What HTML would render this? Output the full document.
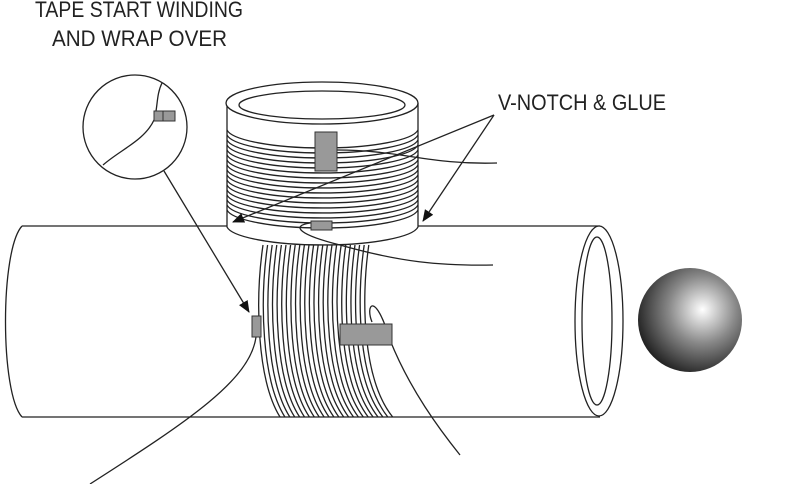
<!DOCTYPE html>
<html><head><meta charset="utf-8"><style>
html,body{margin:0;padding:0;background:#fff;}
svg{display:block}
text{font-family:"Liberation Sans",sans-serif;font-size:22px;fill:#222;}
</style></head><body>
<svg id="s" width="800" height="484" viewBox="0 0 800 484" xmlns="http://www.w3.org/2000/svg">
<defs>
<radialGradient id="g" cx="0.62" cy="0.4" r="0.65">
<stop offset="0" stop-color="#fff"/><stop offset="0.5" stop-color="#888"/><stop offset="1" stop-color="#222"/>
</radialGradient>
<marker id="a" markerWidth="12" markerHeight="10" refX="11" refY="5" orient="auto" markerUnits="userSpaceOnUse"><path d="M0,0 L12,5 L0,10 z" fill="#111"/></marker>
</defs>
<text x="35" y="17" textLength="208" lengthAdjust="spacingAndGlyphs">TAPE START WINDING</text>
<text x="52" y="46" textLength="175" lengthAdjust="spacingAndGlyphs">AND WRAP OVER</text>
<text x="498" y="110" textLength="168" lengthAdjust="spacingAndGlyphs">V-NOTCH &amp; GLUE</text>
<g fill="none" stroke="#222" stroke-width="1.3">
<path d="M22,226 L600,226 M22,417 L600,417 M22,226 C0,250 0,393 22,417" fill="#fff"/>
<ellipse cx="599" cy="321" rx="24" ry="95" fill="#fff"/>
<ellipse cx="597" cy="321" rx="15" ry="84"/>
<g id="band"></g>
<path d="M227,103 L227,227 A96,20 0 0 0 418,227 L418,103" fill="#fff"/>
<ellipse cx="322" cy="103" rx="96" ry="21" fill="#fff"/>
<ellipse cx="322" cy="105" rx="83" ry="14"/>
<g id="ring"></g>
<circle cx="135" cy="127" r="52" fill="#fff"/>
<path d="M162,83 C156,95 158,108 154,120 C145,140 120,150 103,165"/>
<path d="M337,150 C400,150 430,165 497,163"/>
<path d="M310,223 C290,226 300,235 340,245 C400,262 440,266 493,265"/>
<path d="M372,322 C365,305 375,290 390,340 C410,390 440,430 460,455"/>
<path d="M256,337 C250,380 190,420 90,484"/>
<path d="M494,115 L233,222" marker-end="url(#a)"/>
<path d="M494,115 L423,221" marker-end="url(#a)"/>
<path d="M164,171 L249,312" marker-end="url(#a)"/>
</g>
<g fill="#999" stroke="#333" stroke-width="1">
<rect x="154" y="111" width="11" height="10"/><rect x="163" y="111" width="12" height="10"/>
<rect x="315" y="132" width="22" height="39"/>
<rect x="311" y="221" width="21" height="9"/>
<rect x="252" y="316" width="9" height="21"/>
<rect x="340" y="324" width="52" height="21"/>
</g>
<circle cx="690" cy="320" r="52" fill="url(#g)"/>
</svg>
<script>
var r=document.getElementById("ring"),b=document.getElementById("band"),h="";
for(var i=0;i<17;i++){var y=130+i*5;h+='<path d="M227,'+y+' A96,20 0 0 0 418,'+y+'"/>';}
r.innerHTML=h;h="";
for(var i=0;i<24;i++){var x0=263+i*4.6,x1=268+i*4.9;h+='<path d="M'+x0+',245 C'+(x0-8)+',300 '+(x0-6)+',380 '+(x1+12)+',417"/>';}
b.innerHTML=h;
</script>
</body></html>
